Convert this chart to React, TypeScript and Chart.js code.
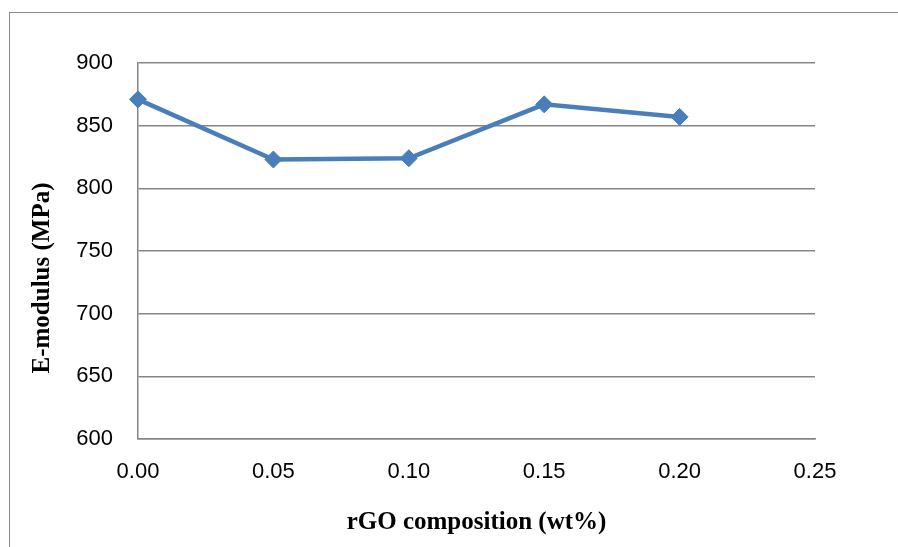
import React, { useEffect, useRef } from "react";
import { Chart, registerables } from "chart.js";

Chart.register(...registerables);

const compositions = [0.0, 0.05, 0.1, 0.15, 0.2];
const modulus = [871, 823, 824, 867, 857];
const xTitle = "rGO composition (wt%)";
const yTitle = "E-modulus (MPa)";

const gridColor = "#868686";
const lineColor = "#4a7ebb";
const titleFont = "bold 25px 'Liberation Serif', 'Times New Roman', serif";

const frame = {
  id: "frame",
  beforeDraw(chart: any) {
    const ctx = chart.ctx;
    ctx.save();
    ctx.fillStyle = "#ffffff";
    ctx.fillRect(0, 0, chart.width, chart.height);
    ctx.strokeStyle = "#8c8c8c";
    ctx.lineWidth = 1;
    ctx.strokeRect(9.5, 12.5, 1000, 1000);
    ctx.restore();
  },
  afterDraw(chart: any) {
    const ctx = chart.ctx;
    const area = chart.chartArea;
    ctx.save();
    ctx.translate(43, (area.top + area.bottom) / 2 + 27);
    ctx.rotate(-Math.PI / 2);
    ctx.font = titleFont;
    ctx.fillStyle = "#000";
    ctx.textAlign = "center";
    ctx.textBaseline = "middle";
    ctx.fillText(yTitle, 0, 0);
    ctx.restore();
  },
};

export default function App() {
  const ref = useRef<HTMLCanvasElement | null>(null);
  useEffect(() => {
    if (!ref.current) return;
    const chart = new Chart(ref.current, {
      type: "line",
      data: {
        datasets: [
          {
            data: compositions.map((x, i) => ({ x, y: modulus[i] })),
            borderColor: lineColor,
            backgroundColor: lineColor,
            borderWidth: 4.5,
            pointStyle: "rectRot",
            pointRadius: 8.5,
            pointBorderWidth: 1,
            pointBackgroundColor: lineColor,
            pointBorderColor: lineColor,
            tension: 0,
            clip: false,
          },
        ],
      },
      options: {
        animation: false,
        responsive: false,
        layout: { padding: { top: 63, right: 83, bottom: 0, left: 0 } },
        plugins: { legend: { display: false }, tooltip: { enabled: false } },
        scales: {
          x: {
            type: "linear",
            min: 0,
            max: 0.25,
            grid: { display: false, drawTicks: false },
            border: { display: true, color: gridColor, width: 1.5 },
            ticks: {
              stepSize: 0.05,
              padding: 20,
              color: "#000",
              font: { family: "'Liberation Sans', Arial, sans-serif", size: 22 },
              callback: (v: any) => Number(v).toFixed(2),
              maxRotation: 0,
            },
            title: {
              display: true,
              text: xTitle,
              color: "#000",
              font: { family: "'Liberation Serif', 'Times New Roman', serif", size: 25, weight: "bold" },
              padding: { top: 0, bottom: 9 },
            },
            afterFit: (s: any) => {
              s.height = 108;
            },
          },
          y: {
            min: 600,
            max: 900,
            grid: { color: gridColor, lineWidth: 1.5, drawTicks: false },
            border: { display: true, color: gridColor, width: 1.5 },
            ticks: {
              stepSize: 50,
              padding: 25,
              color: "#000",
              font: { family: "'Liberation Sans', Arial, sans-serif", size: 22 },
            },
            title: { display: false, text: yTitle },
            afterFit: (s: any) => {
              s.width = 138;
            },
          },
        },
      },
      plugins: [frame],
    });
    return () => chart.destroy();
  }, []);
  return (
    <div style={{ position: "fixed", left: 0, top: 0, width: 898, height: 547 }}>
      <canvas ref={ref} width={898} height={547} style={{ display: "block" }} />
    </div>
  );
}
